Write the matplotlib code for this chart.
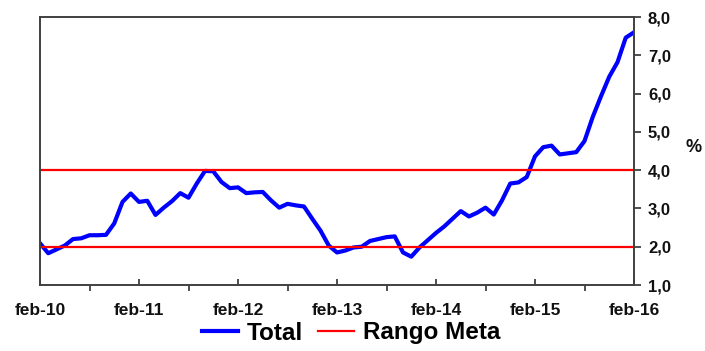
import matplotlib
matplotlib.use("Agg")
import matplotlib.pyplot as plt
from matplotlib.ticker import FixedLocator

plt.rcParams['font.family'] = ['Liberation Sans', 'DejaVu Sans']

# Monthly inflation, feb-2010 .. feb-2016
total = [2.09, 1.83, 1.93, 2.03, 2.20, 2.22, 2.30, 2.30, 2.31, 2.61,
         3.17, 3.39, 3.17, 3.20, 2.83, 3.02, 3.19, 3.40, 3.28, 3.65,
         3.98, 3.97, 3.69, 3.53, 3.55, 3.40, 3.42, 3.43, 3.21, 3.02,
         3.12, 3.08, 3.05, 2.73, 2.42, 2.03, 1.85, 1.90, 1.98, 2.00,
         2.15, 2.20, 2.25, 2.27, 1.85, 1.74, 1.98, 2.17, 2.36, 2.53,
         2.73, 2.93, 2.79, 2.89, 3.02, 2.84, 3.21, 3.65, 3.68, 3.82,
         4.36, 4.60, 4.64, 4.41, 4.44, 4.47, 4.76, 5.39, 5.93, 6.44,
         6.82, 7.46, 7.60]
rango_low = 2.0
rango_high = 4.0
tick_labels = ["feb-10", "feb-11", "feb-12", "feb-13", "feb-14", "feb-15", "feb-16"]
y_ticks = [1, 2, 3, 4, 5, 6, 7, 8]

months = list(range(len(total)))

fig = plt.figure(figsize=(7.05, 3.51), dpi=100)
ax = fig.add_axes([40/705, 1-285/351, 594/705, 268/351])

ax.plot(months, total, color='#0000ff', lw=3.0, label='Total', solid_joinstyle='round')
ax.axhline(rango_high, color='#ff0000', lw=1.6, label='Rango Meta')
ax.axhline(rango_low, color='#ff0000', lw=1.6)

ax.set_xlim(0, len(total) - 1)
ax.set_ylim(1, 8)

major_pos = [12 * k for k in range(len(tick_labels))]
ax.xaxis.set_major_locator(FixedLocator(major_pos))
ax.set_xticklabels(tick_labels, fontsize=12.5, fontweight='bold', color='#111111')
ax.xaxis.set_minor_locator(FixedLocator([6 + 12 * k for k in range(len(tick_labels) - 1)]))
ax.tick_params(axis='x', which='major', direction='in', length=4, width=1.3, color='#404040', pad=13)
ax.tick_params(axis='x', which='minor', direction='out', length=4, width=1.3, color='#404040')

ax.yaxis.tick_right()
ax.set_yticks(y_ticks)
ax.set_yticklabels([f"{v:.1f}".replace('.', ',') for v in y_ticks], fontsize=12,
                   fontweight='bold', color='#111111')
ax.tick_params(axis='y', which='major', direction='out', length=5, width=1.3, color='#404040', pad=5)

for s in ax.spines.values():
    s.set_color('#404040')
    s.set_linewidth(1.4)

fig.text(694/705, 1-148/351, '%', fontsize=13, fontweight='bold', ha='center', va='center',
         color='#111111')

fig.legend(loc='center', bbox_to_anchor=(351/705, 1-333/351), ncol=2, frameon=False,
           prop={'size': 17.5, 'weight': 'bold'}, handlelength=1.5, handletextpad=0.35,
           columnspacing=0.6)

fig.savefig('out.png', dpi=100)
